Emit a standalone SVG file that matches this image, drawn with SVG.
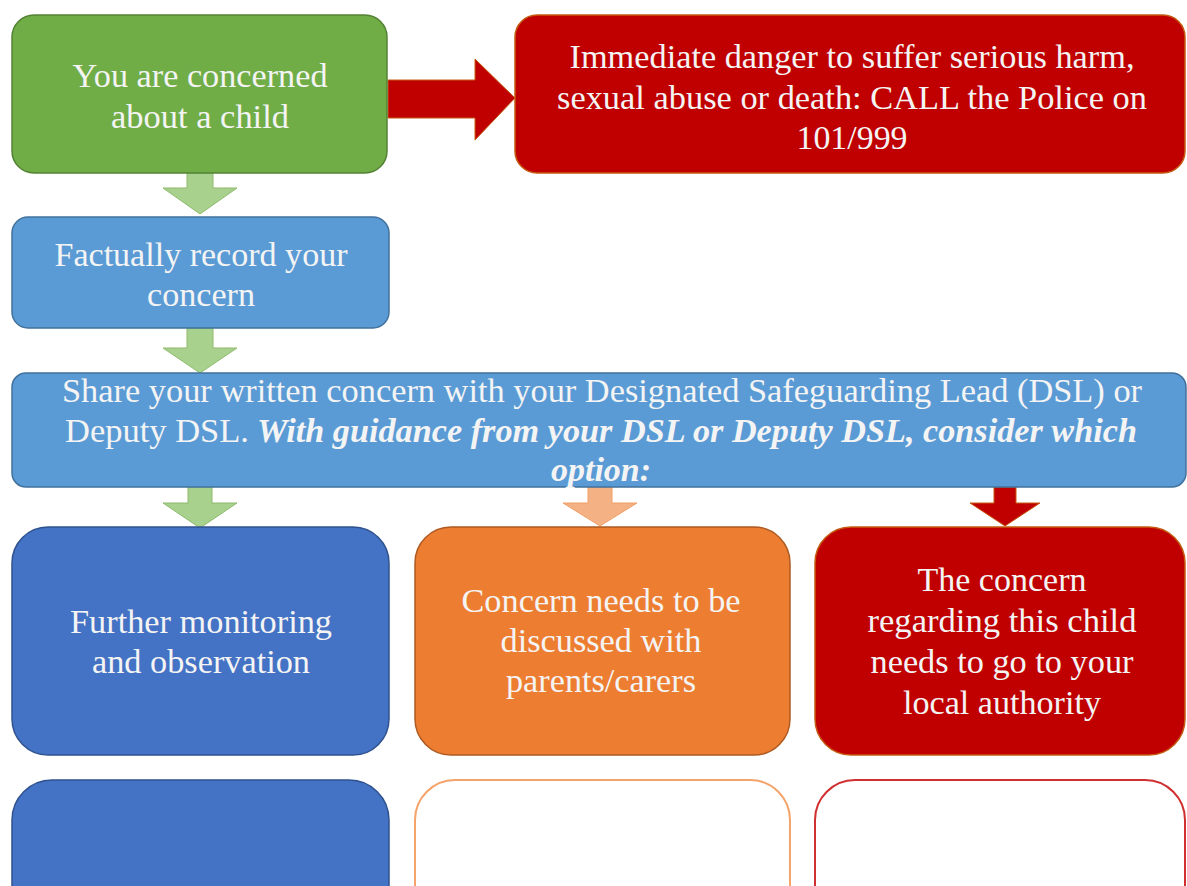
<svg xmlns="http://www.w3.org/2000/svg" width="1187" height="886" viewBox="0 0 1187 886">
<style>
.t{font-family:"Liberation Serif","Times New Roman",serif;font-size:33px;fill:#F4F4F4;text-anchor:middle}
.bi{font-weight:bold;font-style:italic}
</style>
<rect width="1187" height="886" fill="#FFFFFF"/>
<g id="connectors">
  <polygon points="388,80 475,80 475,59 515,98 475,140 475,118 388,118" fill="#C00000" stroke="#C55A11" stroke-width="1"/>
  <polygon points="187,173 213,173 213,188 237,188 200,214 163,188 187,188" fill="#A9D18E" stroke="#8DBA6C" stroke-width="1"/>
  <polygon points="187,328 213,328 213,348 237,348 200,373 163,348 187,348" fill="#A9D18E" stroke="#8DBA6C" stroke-width="1"/>
  <polygon points="188,487 212,487 212,503 237,503 200,528 163,503 188,503" fill="#A9D18E" stroke="#8DBA6C" stroke-width="1"/>
  <polygon points="588,487 612,487 612,503 637,503 600,526 563,503 588,503" fill="#F4B183" stroke="#F09E66" stroke-width="1"/>
  <polygon points="994,487 1016,487 1016,503 1040,503 1005,526 970,503 994,503" fill="#C00000" stroke="#C55A11" stroke-width="1"/>
</g>
<g id="node-concerned">
  <rect x="12" y="15" width="375" height="158" rx="22" fill="#70AD47" stroke="#548235" stroke-width="1.5"/>
  <text class="t" x="200" y="87" textLength="255" lengthAdjust="spacingAndGlyphs">You are concerned</text>
  <text class="t" x="200" y="128" textLength="178" lengthAdjust="spacingAndGlyphs">about a child</text>
</g>
<g id="node-danger">
  <rect x="515" y="15" width="670" height="158" rx="22" fill="#C00000" stroke="#C55A11" stroke-width="1.5"/>
  <text class="t" x="852" y="68" textLength="565" lengthAdjust="spacingAndGlyphs">Immediate danger to suffer serious harm,</text>
  <text class="t" x="852" y="109" textLength="590" lengthAdjust="spacingAndGlyphs">sexual abuse or death: CALL the Police on</text>
  <text class="t" x="852" y="149" textLength="111" lengthAdjust="spacingAndGlyphs">101/999</text>
</g>
<g id="node-record">
  <rect x="12" y="217" width="377" height="111" rx="16" fill="#5B9BD5" stroke="#41719C" stroke-width="1.5"/>
  <text class="t" x="201" y="266" textLength="293" lengthAdjust="spacingAndGlyphs">Factually record your</text>
  <text class="t" x="201" y="306" textLength="108" lengthAdjust="spacingAndGlyphs">concern</text>
</g>
<g id="node-share">
  <rect x="12" y="373" width="1174" height="114" rx="14" fill="#5B9BD5" stroke="#41719C" stroke-width="1.5"/>
  <text class="t" x="602" y="402" textLength="1080" lengthAdjust="spacingAndGlyphs">Share your written concern with your Designated Safeguarding Lead (DSL) or</text>
  <text class="t" x="157" y="442" textLength="184" lengthAdjust="spacingAndGlyphs">Deputy DSL.</text>
  <text class="t bi" x="697" y="442" textLength="880" lengthAdjust="spacingAndGlyphs">With guidance from your DSL or Deputy DSL, consider which</text>
  <text class="t bi" x="601" y="481" textLength="100" lengthAdjust="spacingAndGlyphs">option:</text>
</g>
<g id="node-monitor">
  <rect x="12" y="527" width="377" height="228" rx="36" fill="#4472C4" stroke="#2F528F" stroke-width="1.5"/>
  <text class="t" x="201" y="633" textLength="262" lengthAdjust="spacingAndGlyphs">Further monitoring</text>
  <text class="t" x="201" y="673" textLength="218" lengthAdjust="spacingAndGlyphs">and observation</text>
</g>
<g id="node-parents">
  <rect x="415" y="527" width="375" height="228" rx="36" fill="#ED7D31" stroke="#AE5A21" stroke-width="1.5"/>
  <text class="t" x="601" y="612" textLength="279" lengthAdjust="spacingAndGlyphs">Concern needs to be</text>
  <text class="t" x="601" y="652" textLength="201" lengthAdjust="spacingAndGlyphs">discussed with</text>
  <text class="t" x="601" y="692" textLength="190" lengthAdjust="spacingAndGlyphs">parents/carers</text>
</g>
<g id="node-authority">
  <rect x="815" y="527" width="370" height="228" rx="36" fill="#C00000" stroke="#C55A11" stroke-width="1.5"/>
  <text class="t" x="1002" y="591" textLength="169" lengthAdjust="spacingAndGlyphs">The concern</text>
  <text class="t" x="1002" y="632" textLength="269" lengthAdjust="spacingAndGlyphs">regarding this child</text>
  <text class="t" x="1002" y="673" textLength="263" lengthAdjust="spacingAndGlyphs">needs to go to your</text>
  <text class="t" x="1002" y="714" textLength="198" lengthAdjust="spacingAndGlyphs">local authority</text>
</g>
<g id="node-bottom-blue">
  <rect x="12" y="780" width="377" height="160" rx="40" fill="#4472C4" stroke="#2F528F" stroke-width="1.5"/>
</g>
<g id="node-bottom-orange">
  <rect x="415" y="780" width="375" height="160" rx="40" fill="#FFFFFF" stroke="#F4A36B" stroke-width="2"/>
</g>
<g id="node-bottom-red">
  <rect x="815" y="780" width="370" height="160" rx="40" fill="#FFFFFF" stroke="#D03030" stroke-width="2"/>
</g>
</svg>
